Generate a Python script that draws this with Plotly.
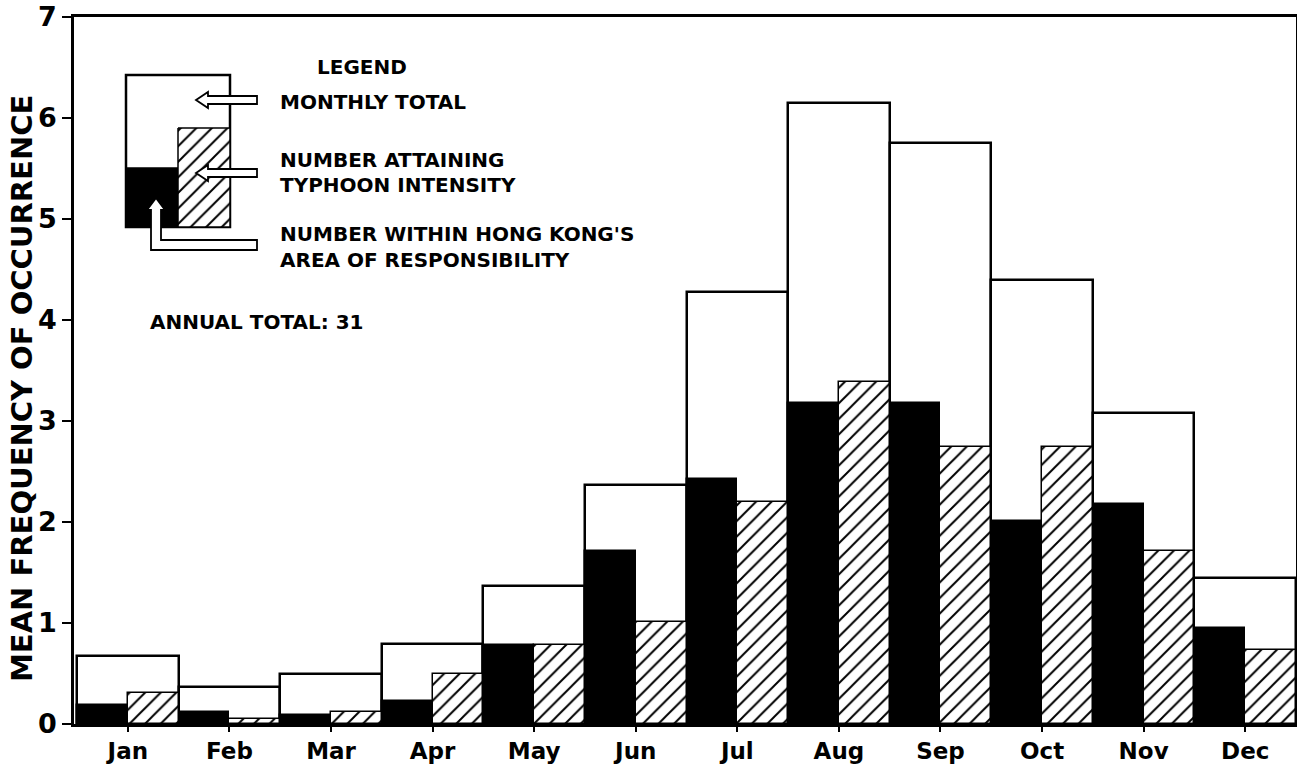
import plotly.graph_objects as go

# ---------------- data ----------------
months = ["Jan", "Feb", "Mar", "Apr", "May", "Jun",
          "Jul", "Aug", "Sep", "Oct", "Nov", "Dec"]
monthly_total = [0.67, 0.37, 0.50, 0.79, 1.37, 2.37, 4.28, 6.15, 5.75, 4.40, 3.08, 1.45]
within_hk = [0.19, 0.12, 0.09, 0.23, 0.78, 1.71, 2.43, 3.18, 3.18, 2.01, 2.18, 0.95]
typhoon_intensity = [0.31, 0.05, 0.12, 0.50, 0.78, 1.01, 2.20, 3.39, 2.74, 2.74, 1.71, 0.73]
y_ticks = [0, 1, 2, 3, 4, 5, 6, 7]
annual_total = 31

# ---------------- layout constants ----------------
W, H = 1297, 764
PL, PR, PT, PB = 74, 1296, 17, 724   # plot area in pixels
FONT = "DejaVu Sans"
INK = "black"
pos = list(range(len(months)))
HATCH = dict(shape="/", size=11, solidity=0.18, fgcolor=INK, bgcolor="white",
             fillmode="overlay", fgopacity=1)

fig = go.Figure()

# monthly totals (open boxes spanning whole month)
fig.add_trace(go.Bar(
    x=pos, y=monthly_total, width=1.0, offset=-0.5,
    marker=dict(color="white", line=dict(color=INK, width=2.5)),
    name="Monthly total", showlegend=False, hoverinfo="y"))
# within Hong Kong's area of responsibility (solid black, left half)
fig.add_trace(go.Bar(
    x=pos, y=within_hk, width=0.5, offset=-0.5,
    marker=dict(color=INK, line=dict(color=INK, width=1.5)),
    name="Within HK AOR", showlegend=False, hoverinfo="y"))
# attaining typhoon intensity (hatched, right half)
fig.add_trace(go.Bar(
    x=pos, y=typhoon_intensity, width=0.5, offset=0.0,
    marker=dict(color="white", line=dict(color=INK, width=1.5), pattern=HATCH),
    name="Typhoon intensity", showlegend=False, hoverinfo="y"))

# ---------------- legend diagram (pixel axes x2/y2) ----------------
key_box = (126, 230, 75, 227)
key_black = (126, 178, 168, 227)
key_hatch = (178, 230, 128, 227)

shapes = []
shapes.append(dict(type="rect", xref="x2", yref="y2",
                   x0=key_box[0], x1=key_box[1], y0=key_box[2], y1=key_box[3],
                   fillcolor="white", line=dict(color=INK, width=2.5), layer="below"))
shapes.append(dict(type="rect", xref="x2", yref="y2",
                   x0=key_black[0], x1=key_black[1], y0=key_black[2], y1=key_black[3],
                   fillcolor=INK, line=dict(color=INK, width=1.5), layer="below"))

hx0, hx1, hy0, hy1 = key_hatch
fig.add_trace(go.Scatter(
    x=[hx0, hx1, hx1, hx0, hx0], y=[hy0, hy0, hy1, hy1, hy0],
    xaxis="x2", yaxis="y2", mode="lines", fill="toself",
    fillcolor="white", line=dict(color=INK, width=1.5),
    fillpattern=HATCH, showlegend=False, hoverinfo="skip"))


def left_arrow(tx, ty, tail, hl=12, hh=8, sh=4):
    return (f"M {tx},{ty} L {tx+hl},{ty-hh} L {tx+hl},{ty-sh} L {tail},{ty-sh} "
            f"L {tail},{ty+sh} L {tx+hl},{ty+sh} L {tx+hl},{ty+hh} Z")


arrow_style = dict(type="path", xref="x2", yref="y2", fillcolor="white",
                   line=dict(color=INK, width=1.8), layer="above")
shapes.append(dict(path=left_arrow(196, 100, 257), **arrow_style))
shapes.append(dict(path=left_arrow(196, 173, 257), **arrow_style))
up_path = ("M 156,198 L 165,210 L 161,210 L 161,240 L 257,240 L 257,250 "
           "L 151,250 L 151,210 L 147,210 Z")
shapes.append(dict(path=up_path, **arrow_style))

ann = []
text_font = dict(family=FONT, size=20, color=INK, weight="bold")
ann.append(dict(text="LEGEND", x=362, y=67, xanchor="center", yanchor="middle"))
for txt, yy in [("MONTHLY TOTAL", 102),
                ("NUMBER ATTAINING", 160),
                ("TYPHOON INTENSITY", 185),
                ("NUMBER WITHIN HONG KONG'S", 234),
                ("AREA OF RESPONSIBILITY", 260)]:
    ann.append(dict(text=txt, x=278, y=yy, xanchor="left", yanchor="middle"))
ann.append(dict(text=f"ANNUAL TOTAL: {annual_total}", x=148, y=322,
                xanchor="left", yanchor="middle"))
for a in ann:
    a.update(xref="x2", yref="y2", showarrow=False, font=text_font)

# y-axis title placed in paper coordinates (outside plot area)
title_px, title_py = 22, 389
ann.append(dict(text="MEAN FREQUENCY OF OCCURRENCE",
                x=(title_px - PL) / (PR - PL), y=(PB - title_py) / (PB - PT),
                xref="paper", yref="paper", textangle=-90, showarrow=False,
                xanchor="center", yanchor="middle",
                font=dict(family=FONT, size=29, color=INK, weight="bold")))

fig.update_layout(
    width=W, height=H,
    margin=dict(l=PL, r=W - PR, t=PT, b=H - PB, autoexpand=False),
    paper_bgcolor="white", plot_bgcolor="white",
    barmode="overlay", bargap=0,
    showlegend=False,
    xaxis=dict(range=[-0.53, 11.5], tickvals=pos, ticktext=months,
               showgrid=False, zeroline=False,
               showline=True, linecolor=INK, linewidth=2.5, mirror=True,
               ticks="outside", ticklen=5, tickwidth=2, tickcolor=INK,
               tickfont=dict(family=FONT, size=23, color=INK, weight="bold")),
    yaxis=dict(range=[0, 7], tickvals=y_ticks, ticktext=[str(v) for v in y_ticks],
               showgrid=False, zeroline=False,
               showline=True, linecolor=INK, linewidth=2.5, mirror=True,
               ticks="outside", ticklen=9, tickwidth=2, tickcolor=INK,
               tickfont=dict(family=FONT, size=27, color=INK, weight="bold")),
    xaxis2=dict(range=[PL, PR], overlaying="x", anchor="y2", visible=False),
    yaxis2=dict(range=[PB, PT], overlaying="y", anchor="x2", visible=False),
    shapes=shapes,
    annotations=ann,
)

fig.write_html("out.html",
               config={"displayModeBar": False},
               post_script="document.body.style.margin='0px';"
                           "document.body.style.overflow='hidden';")
